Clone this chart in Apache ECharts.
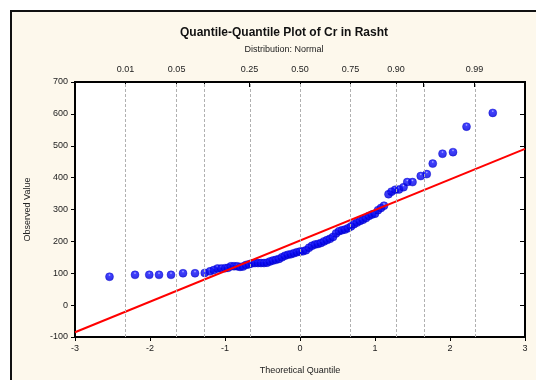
<!DOCTYPE html>
<html>
<head>
<meta charset="utf-8">
<script src="https://cdn.jsdelivr.net/npm/echarts@6/dist/echarts.min.js"></script>
<style>
  html, body { margin: 0; padding: 0; background: #fff; }
  #main { width: 536px; height: 380px; }
</style>
</head>
<body>
<div id="main"></div>
<script>
const theoQ = [
  -2.54, -2.20, -2.01, -1.88, -1.72, -1.56, -1.40, -1.27,
  -1.20, -1.15, -1.10, -1.05, -1.00, -0.96, -0.92, -0.88, -0.84, -0.80,
  -0.76, -0.72, -0.68, -0.64, -0.60, -0.56, -0.52, -0.48, -0.44, -0.40,
  -0.36, -0.32, -0.28, -0.24, -0.20, -0.16, -0.12, -0.08, -0.04, 0.00,
  0.04, 0.08, 0.12, 0.16, 0.20, 0.24, 0.28, 0.32, 0.36, 0.40,
  0.44, 0.48, 0.52, 0.56, 0.60, 0.64, 0.68, 0.72, 0.76, 0.80,
  0.84, 0.88, 0.92, 0.96, 1.00, 1.04, 1.08, 1.12,
  1.18, 1.22, 1.27, 1.32, 1.38, 1.43, 1.50, 1.61, 1.69, 1.77,
  1.90, 2.04, 2.22, 2.57
];
const observed = [
  89, 95, 95, 95, 95, 100, 100, 101,
  106, 110, 115, 115, 116, 117, 122, 122, 122, 120,
  121, 126, 128, 131, 132, 132, 132, 132, 133, 137,
  140, 142, 145, 150, 155, 158, 160, 163, 166, 168,
  169, 172, 180, 186, 190, 192, 195, 200, 204, 208,
  214, 225, 232, 235, 237, 241, 247, 254, 259, 264,
  268, 273, 280, 284, 287, 298, 305, 312,
  348, 356, 362, 363, 370, 386, 386, 405, 411, 444,
  475, 480, 560, 603
];
// reference line ends
const lineX = [-3, 3];
const lineY = [-85, 490];

// probability scale on top
const probLabels = ['0.01', '0.05', '0.10', '0.25', '0.50', '0.75', '0.90', '0.95', '0.99'];
const probZ = [-2.326, -1.645, -1.2816, -0.674, 0, 0.674, 1.2816, 1.645, 2.326];
const probShown = ['0.01', '0.05', '0.25', '0.50', '0.75', '0.90', '0.99'];

const font = 'Liberation Sans, Arial, sans-serif';
const points = theoQ.map((q, i) => [q, observed[i]]);
const refLine = lineX.map((x, i) => [x, lineY[i]]);
const shownZ = probZ.filter((z, i) => probShown.indexOf(probLabels[i]) >= 0);

const chart = echarts.init(document.getElementById('main'));
chart.setOption({
  animation: false,
  backgroundColor: '#ffffff',
  textStyle: { fontFamily: font },
  graphic: [
    {
      type: 'rect', z: -10, silent: true,
      shape: { x: 11, y: 11, width: 600, height: 500 },
      style: { fill: '#fdf8ec', stroke: '#111', lineWidth: 2 }
    }
  ],
  title: {
    text: 'Quantile-Quantile Plot of Cr in Rasht',
    subtext: 'Distribution: Normal',
    left: 279, top: 22, textAlign: 'center',
    itemGap: 6,
    textStyle: { fontFamily: font, fontSize: 12, fontWeight: 'bold', color: '#111' },
    subtextStyle: { fontFamily: font, fontSize: 9, color: '#222' }
  },
  grid: {
    left: 75, top: 82, width: 450, height: 259,
    show: true, backgroundColor: '#ffffff', borderColor: '#000', borderWidth: 2
  },
  xAxis: [
    {
      type: 'value', position: 'bottom', min: -3, max: 3, interval: 1,
      name: 'Theoretical Quantile', nameLocation: 'middle', nameGap: 29,
      nameTextStyle: { fontFamily: font, fontSize: 9, color: '#222' },
      axisLine: { show: true, onZero: false, lineStyle: { color: '#000', width: 2 } },
      axisTick: { show: true, inside: false, length: 4, lineStyle: { color: '#000' } },
      axisLabel: { fontSize: 9, color: '#222', margin: 7 },
      splitLine: { show: false }
    },
    {
      type: 'value', position: 'top', min: -3, max: 3,
      axisLine: { show: true, onZero: false, lineStyle: { color: '#000', width: 2 } },
      axisTick: { show: true, inside: true, length: 5, customValues: probZ, lineStyle: { color: '#000' } },
      axisLabel: {
        fontSize: 9, color: '#222', margin: 8, customValues: shownZ,
        formatter: function (v) {
          let best = 0;
          probZ.forEach((z, i) => { if (Math.abs(z - v) < Math.abs(probZ[best] - v)) best = i; });
          return probLabels[best];
        }
      },
      splitLine: { show: false }
    }
  ],
  yAxis: [
    {
      type: 'value', position: 'left', min: -100, max: 700, interval: 100,
      name: 'Observed Value', nameLocation: 'middle', nameGap: 43,
      nameTextStyle: { fontFamily: font, fontSize: 9, color: '#222' },
      axisLine: { show: true, onZero: false, lineStyle: { color: '#000', width: 2 } },
      axisTick: { show: true, inside: false, length: 4, lineStyle: { color: '#000' } },
      axisLabel: { fontSize: 9, color: '#222', margin: 7 },
      splitLine: { show: false }
    },
    {
      type: 'value', position: 'right', min: -100, max: 700, interval: 100,
      axisLine: { show: true, onZero: false, lineStyle: { color: '#000', width: 2 } },
      axisTick: { show: true, inside: true, length: 5, lineStyle: { color: '#000' } },
      axisLabel: { show: false },
      splitLine: { show: false }
    }
  ],
  series: [
    {
      name: 'grid', type: 'line', data: [], silent: true,
      markLine: {
        silent: true, symbol: 'none', animation: false,
        label: { show: false },
        lineStyle: { color: '#b0b0b0', type: [3, 2], width: 1 },
        data: probZ.map(z => ({ xAxis: z }))
      }
    },
    {
      name: 'observed', type: 'scatter', data: points,
      symbol: 'circle', symbolSize: 8, z: 3,
      itemStyle: {
        color: new echarts.graphic.RadialGradient(0.5, 0.3, 0.6, [
          { offset: 0, color: '#b0b0ff' },
          { offset: 0.25, color: '#1010ff' },
          { offset: 1, color: '#0000e0' }
        ]),
        borderColor: '#0000c8', borderWidth: 0.5
      }
    },
    {
      name: 'ref', type: 'line', data: refLine, symbol: 'none', z: 4,
      lineStyle: { color: '#ff0000', width: 2 }
    }
  ]
});
</script>
</body>
</html>
